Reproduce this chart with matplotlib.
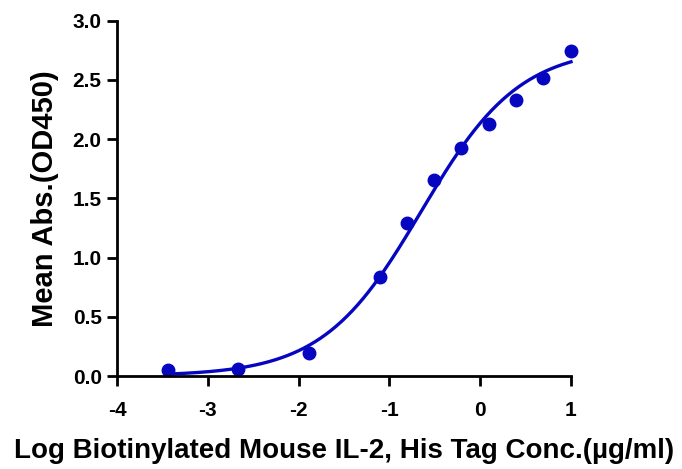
import numpy as np
import matplotlib.pyplot as plt

plt.rcParams['font.family'] = ['Liberation Sans', 'DejaVu Sans']
plt.rcParams['font.weight'] = 'bold'

# measured points (log conc vs OD450)
log_conc = [-3.442, -2.665, -1.887, -1.105, -0.808, -0.507, -0.206, 0.095, 0.396, 0.692, 1.0]
mean_abs = [0.051, 0.062, 0.196, 0.835, 1.289, 1.655, 1.922, 2.128, 2.331, 2.519, 2.747]

# 4PL fit parameters
bottom, top, log_ec50, hill = 0.0, 2.78, -0.65, 0.8

xticks = [-4, -3, -2, -1, 0, 1]
yticks = [0.0, 0.5, 1.0, 1.5, 2.0, 2.5, 3.0]

color = "#0606c0"
lw = 2.0
fs = 20

fig = plt.figure(figsize=(6.82, 4.69), dpi=100)
ax = fig.add_axes([117/682, 1 - 376/469, (571-117)/682, (376-20.7)/469])

xfit = np.linspace(min(log_conc), max(log_conc), 300)
yfit = bottom + (top - bottom) / (1 + 10 ** ((log_ec50 - xfit) * hill))
ax.plot(xfit, yfit, color=color, linewidth=2.4, clip_on=False)
ax.plot(log_conc, mean_abs, 'o', color=color, markersize=9, clip_on=False)

ax.set_xlim(-4, 1)
ax.set_ylim(0, 3.0)
ax.set_xticks(xticks)
ax.set_yticks(yticks)
ax.set_xticklabels([str(t) for t in xticks])
ax.set_yticklabels([f"{t:.1f}" for t in yticks])
ax.spines['top'].set_visible(False)
ax.spines['right'].set_visible(False)
for s in ['left', 'bottom']:
    ax.spines[s].set_linewidth(lw)
ax.tick_params(width=lw, length=7, labelsize=15)
ax.tick_params(axis='x', pad=11)
ax.tick_params(axis='y', pad=4)
for lab in ax.get_xticklabels() + ax.get_yticklabels():
    lab.set_fontweight('bold')

ax.set_xlabel("Log Biotinylated Mouse IL-2, His Tag Conc.(µg/ml)", fontsize=fs, fontweight='bold', labelpad=13)
ax.set_ylabel("Mean Abs.(OD450)", fontsize=fs + 1, fontweight='bold', labelpad=10)

fig.savefig("out.png", dpi=100)
